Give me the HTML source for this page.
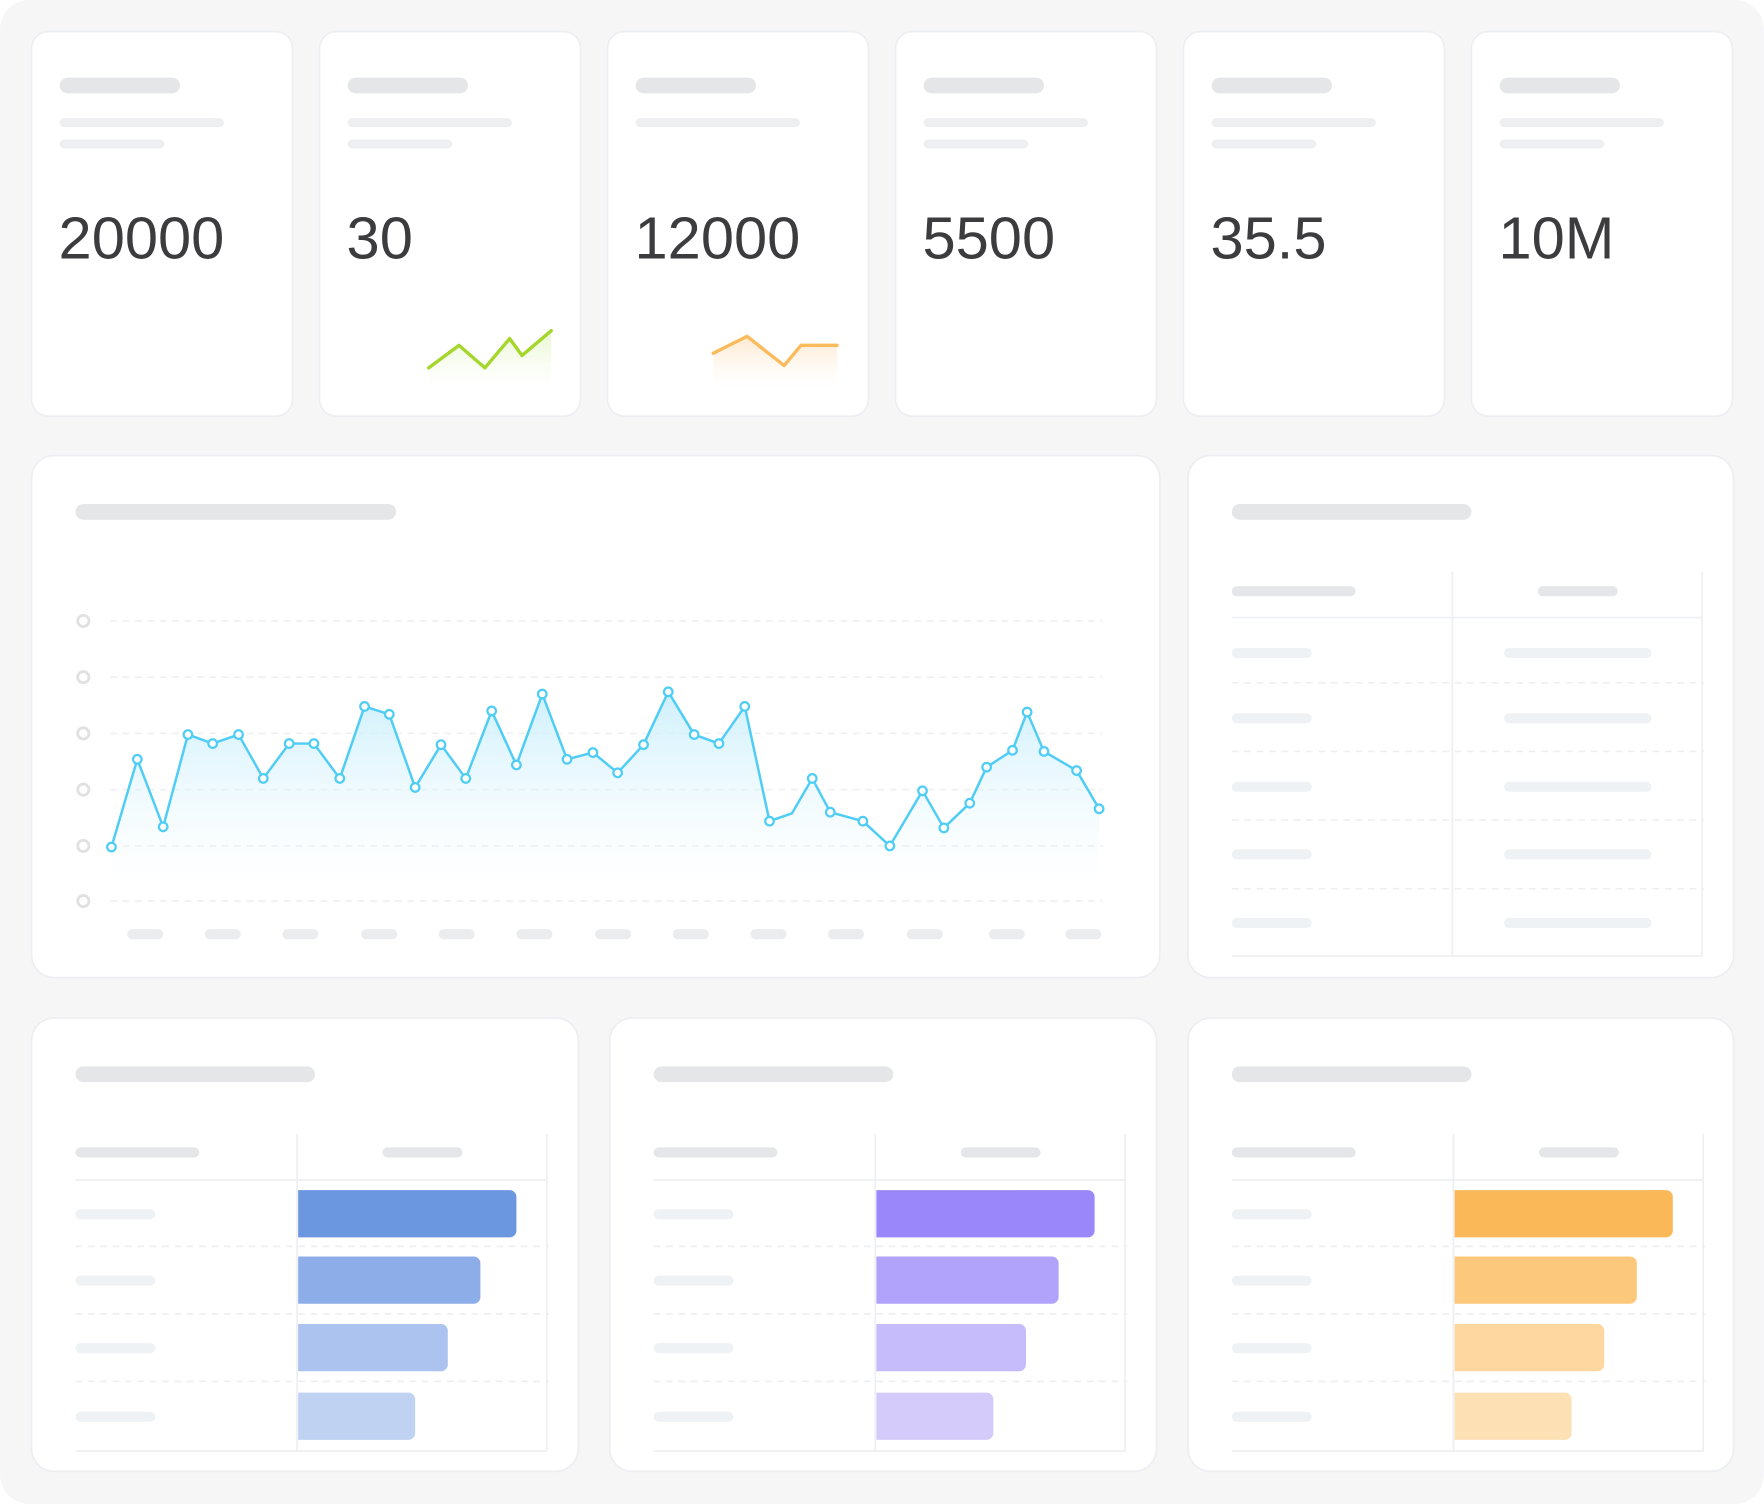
<!DOCTYPE html>
<html><head><meta charset="utf-8"><style>
html,body{margin:0;padding:0;background:#fff;width:1764px;height:1504px;overflow:hidden}
svg{display:block}
</style></head><body>
<svg width="1764" height="1504" viewBox="0 0 1568 1337" xmlns="http://www.w3.org/2000/svg">
<defs>
<linearGradient id="gb" x1="0" y1="0" x2="0" y2="1"><stop offset="0" stop-color="#c9eefb" stop-opacity="0.9"/><stop offset="1" stop-color="#e8f8fe" stop-opacity="0"/></linearGradient>
<linearGradient id="gg" x1="0" y1="0" x2="0" y2="1"><stop offset="0" stop-color="#d9f2b0" stop-opacity="0.6"/><stop offset="1" stop-color="#f0fae0" stop-opacity="0"/></linearGradient>
<linearGradient id="go" x1="0" y1="0" x2="0" y2="1"><stop offset="0" stop-color="#fde0bd" stop-opacity="0.7"/><stop offset="1" stop-color="#fff3e5" stop-opacity="0"/></linearGradient>
</defs>
<rect x="0" y="0" width="1568" height="1337" rx="26" fill="#f6f6f7"/>
<g fill="#fff" stroke="#eceef1" stroke-width="1.5">
<rect x="28" y="28" width="232" height="342" rx="15"/>
<rect x="284" y="28" width="232" height="342" rx="15"/>
<rect x="540" y="28" width="232" height="342" rx="15"/>
<rect x="796" y="28" width="232" height="342" rx="15"/>
<rect x="1052" y="28" width="232" height="342" rx="15"/>
<rect x="1308" y="28" width="232" height="342" rx="15"/>
<rect x="28" y="405" width="1003" height="464" rx="20"/>
<rect x="1056" y="405" width="485" height="464" rx="20"/>
<rect x="28" y="905" width="486" height="403" rx="20"/>
<rect x="542" y="905" width="486" height="403" rx="20"/>
<rect x="1056" y="905" width="485" height="403" rx="20"/>
</g>
<g id="kpi">
<g fill="#e5e6e8"><rect x="53" y="69" width="107" height="14" rx="7"/><rect x="309" y="69" width="107" height="14" rx="7"/><rect x="565" y="69" width="107" height="14" rx="7"/><rect x="821" y="69" width="107" height="14" rx="7"/><rect x="1077" y="69" width="107" height="14" rx="7"/><rect x="1333" y="69" width="107" height="14" rx="7"/></g>
<g fill="#eeeff1"><rect x="53" y="105" width="146" height="8" rx="4"/><rect x="309" y="105" width="146" height="8" rx="4"/><rect x="565" y="105" width="146" height="8" rx="4"/><rect x="821" y="105" width="146" height="8" rx="4"/><rect x="1077" y="105" width="146" height="8" rx="4"/><rect x="1333" y="105" width="146" height="8" rx="4"/>
<rect x="53" y="124" width="93" height="8" rx="4"/><rect x="309" y="124" width="93" height="8" rx="4"/><rect x="821" y="124" width="93" height="8" rx="4"/><rect x="1077" y="124" width="93" height="8" rx="4"/><rect x="1333" y="124" width="93" height="8" rx="4"/></g>
<g font-family="Liberation Sans, sans-serif" font-size="53" fill="#3c3c3e">
<text x="52" y="230">20000</text><text x="308" y="230">30</text><text x="564" y="230">12000</text><text x="820" y="230">5500</text><text x="1076" y="230">35.5</text><text x="1332" y="230">10M</text></g>
<polygon points="381,327 408,307 431,327 453,301 464,316 490,294 490,345 381,345" fill="url(#gg)"/>
<polyline points="381,327 408,307 431,327 453,301 464,316 490,294" fill="none" stroke="#a5d62b" stroke-width="3" stroke-linejoin="round" stroke-linecap="round"/>
<polygon points="634,314 664,299 697,325 712,307 744,307 744,345 634,345" fill="url(#go)"/>
<polyline points="634,314 664,299 697,325 712,307 744,307" fill="none" stroke="#fbbb5c" stroke-width="3" stroke-linejoin="round" stroke-linecap="round"/>
</g>
<!-- main chart -->
<rect x="67" y="448" width="285" height="14" rx="7" fill="#e5e6e8"/>
<g stroke="#eeeff1" stroke-width="1.5" stroke-dasharray="6 5">
<line x1="98" y1="552" x2="980" y2="552"/><line x1="98" y1="602" x2="980" y2="602"/><line x1="98" y1="652" x2="980" y2="652"/><line x1="98" y1="702" x2="980" y2="702"/><line x1="98" y1="752" x2="980" y2="752"/><line x1="98" y1="801" x2="980" y2="801"/></g>
<g fill="#fff" stroke="#e0e1e3" stroke-width="2.5"><circle cx="74" cy="552" r="5"/><circle cx="74" cy="602" r="5"/><circle cx="74" cy="652" r="5"/><circle cx="74" cy="702" r="5"/><circle cx="74" cy="752" r="5"/><circle cx="74" cy="801" r="5"/></g>
<g fill="#ebecee"><rect x="113" y="826" width="32" height="9" rx="4.5"/><rect x="182" y="826" width="32" height="9" rx="4.5"/><rect x="251" y="826" width="32" height="9" rx="4.5"/><rect x="321" y="826" width="32" height="9" rx="4.5"/><rect x="390" y="826" width="32" height="9" rx="4.5"/><rect x="459" y="826" width="32" height="9" rx="4.5"/><rect x="529" y="826" width="32" height="9" rx="4.5"/><rect x="598" y="826" width="32" height="9" rx="4.5"/><rect x="667" y="826" width="32" height="9" rx="4.5"/><rect x="736" y="826" width="32" height="9" rx="4.5"/><rect x="806" y="826" width="32" height="9" rx="4.5"/><rect x="879" y="826" width="32" height="9" rx="4.5"/><rect x="947" y="826" width="32" height="9" rx="4.5"/></g>
<polygon fill="url(#gb)" points="99,753 122,675 145,735 167,653 189,661 212,653 234,692 257,661 279,661 302,692 324,628 346,635 369,700 392,662 414,692 437,632 459,680 482,617 504,675 527,669 549,687 572,662 594,615 617,653 639,661 662,628 684,730 704,723 722,692 738,722 767,730 791,752 820,703 839,736 862,714 877,682 900,667 913,633 928,668 957,685 977,719 977,785 99,785"/>
<polyline fill="none" stroke="#4fcdf5" stroke-width="2.2" stroke-linejoin="round" points="99,753 122,675 145,735 167,653 189,661 212,653 234,692 257,661 279,661 302,692 324,628 346,635 369,700 392,662 414,692 437,632 459,680 482,617 504,675 527,669 549,687 572,662 594,615 617,653 639,661 662,628 684,730 704,723 722,692 738,722 767,730 791,752 820,703 839,736 862,714 877,682 900,667 913,633 928,668 957,685 977,719"/>
<g fill="#fff" stroke="#4fcdf5" stroke-width="2"><circle cx="99" cy="753" r="3.8"/><circle cx="122" cy="675" r="3.8"/><circle cx="145" cy="735" r="3.8"/><circle cx="167" cy="653" r="3.8"/><circle cx="189" cy="661" r="3.8"/><circle cx="212" cy="653" r="3.8"/><circle cx="234" cy="692" r="3.8"/><circle cx="257" cy="661" r="3.8"/><circle cx="279" cy="661" r="3.8"/><circle cx="302" cy="692" r="3.8"/><circle cx="324" cy="628" r="3.8"/><circle cx="346" cy="635" r="3.8"/><circle cx="369" cy="700" r="3.8"/><circle cx="392" cy="662" r="3.8"/><circle cx="414" cy="692" r="3.8"/><circle cx="437" cy="632" r="3.8"/><circle cx="459" cy="680" r="3.8"/><circle cx="482" cy="617" r="3.8"/><circle cx="504" cy="675" r="3.8"/><circle cx="527" cy="669" r="3.8"/><circle cx="549" cy="687" r="3.8"/><circle cx="572" cy="662" r="3.8"/><circle cx="594" cy="615" r="3.8"/><circle cx="617" cy="653" r="3.8"/><circle cx="639" cy="661" r="3.8"/><circle cx="662" cy="628" r="3.8"/><circle cx="684" cy="730" r="3.8"/><circle cx="722" cy="692" r="3.8"/><circle cx="738" cy="722" r="3.8"/><circle cx="767" cy="730" r="3.8"/><circle cx="791" cy="752" r="3.8"/><circle cx="820" cy="703" r="3.8"/><circle cx="839" cy="736" r="3.8"/><circle cx="862" cy="714" r="3.8"/><circle cx="877" cy="682" r="3.8"/><circle cx="900" cy="667" r="3.8"/><circle cx="913" cy="633" r="3.8"/><circle cx="928" cy="668" r="3.8"/><circle cx="957" cy="685" r="3.8"/><circle cx="977" cy="719" r="3.8"/></g>
<!-- right table -->
<rect x="1095" y="448" width="213" height="14" rx="7" fill="#e5e6e8"/>
<g stroke="#eeeff1" stroke-width="1.5" fill="none">
<line x1="1291" y1="508" x2="1291" y2="850"/><line x1="1513" y1="508" x2="1513" y2="850"/>
<line x1="1095" y1="549" x2="1513" y2="549"/><line x1="1095" y1="850" x2="1513" y2="850"/>
<g stroke-dasharray="6 5"><line x1="1095" y1="607" x2="1515" y2="607"/><line x1="1095" y1="668" x2="1515" y2="668"/><line x1="1095" y1="729" x2="1515" y2="729"/><line x1="1095" y1="790" x2="1515" y2="790"/></g></g>
<g fill="#e5e6e8"><rect x="1095" y="521" width="110" height="9" rx="4.5"/><rect x="1367" y="521" width="71" height="9" rx="4.5"/></g>
<g fill="#eff2f4"><rect x="1095" y="576" width="71" height="9" rx="4.5"/><rect x="1337" y="576" width="131" height="9" rx="4.5"/><rect x="1095" y="634" width="71" height="9" rx="4.5"/><rect x="1337" y="634" width="131" height="9" rx="4.5"/><rect x="1095" y="695" width="71" height="9" rx="4.5"/><rect x="1337" y="695" width="131" height="9" rx="4.5"/><rect x="1095" y="755" width="71" height="9" rx="4.5"/><rect x="1337" y="755" width="131" height="9" rx="4.5"/><rect x="1095" y="816" width="71" height="9" rx="4.5"/><rect x="1337" y="816" width="131" height="9" rx="4.5"/></g>
<!-- bottom bar tables -->
<g id="b1" transform="translate(0,0)">
<rect x="67" y="948" width="213" height="14" rx="7" fill="#e5e6e8"/>
<g stroke="#eeeff1" stroke-width="1.5" fill="none"><line x1="264" y1="1008" x2="264" y2="1290"/><line x1="486" y1="1008" x2="486" y2="1290"/><line x1="67" y1="1049" x2="486" y2="1049"/><line x1="67" y1="1290" x2="486" y2="1290"/><g stroke-dasharray="6 5"><line x1="67" y1="1108" x2="488" y2="1108"/><line x1="67" y1="1168" x2="488" y2="1168"/><line x1="67" y1="1228" x2="488" y2="1228"/></g></g>
<g fill="#e5e6e8"><rect x="67" y="1020" width="110" height="9" rx="4.5"/><rect x="340" y="1020" width="71" height="9" rx="4.5"/></g>
<g fill="#eff2f4"><rect x="67" y="1075" width="71" height="9" rx="4.5"/><rect x="67" y="1134" width="71" height="9" rx="4.5"/><rect x="67" y="1194" width="71" height="9" rx="4.5"/><rect x="67" y="1255" width="71" height="9" rx="4.5"/></g>
</g>
<use href="#b1" transform="translate(514,0)"/>
<use href="#b1" transform="translate(1028,0)"/>
<g>
<path d="M265 1058h188a6 6 0 0 1 6 6v30a6 6 0 0 1-6 6h-188z" fill="#6b96e0"/>
<path d="M265 1117h156a6 6 0 0 1 6 6v30a6 6 0 0 1-6 6h-156z" fill="#8dade8"/>
<path d="M265 1177h127a6 6 0 0 1 6 6v30a6 6 0 0 1-6 6h-127z" fill="#abc3ee"/>
<path d="M265 1238h98a6 6 0 0 1 6 6v30a6 6 0 0 1-6 6h-98z" fill="#bfd2f1"/>
<path d="M779 1058h188a6 6 0 0 1 6 6v30a6 6 0 0 1-6 6h-188z" fill="#9a88fa"/>
<path d="M779 1117h156a6 6 0 0 1 6 6v30a6 6 0 0 1-6 6h-156z" fill="#b1a2fb"/>
<path d="M779 1177h127a6 6 0 0 1 6 6v30a6 6 0 0 1-6 6h-127z" fill="#c6bcfc"/>
<path d="M779 1238h98a6 6 0 0 1 6 6v30a6 6 0 0 1-6 6h-98z" fill="#d5cbfb"/>
<path d="M1293 1058h188a6 6 0 0 1 6 6v30a6 6 0 0 1-6 6h-188z" fill="#fbb858"/>
<path d="M1293 1117h156a6 6 0 0 1 6 6v30a6 6 0 0 1-6 6h-156z" fill="#fcc87b"/>
<path d="M1293 1177h127a6 6 0 0 1 6 6v30a6 6 0 0 1-6 6h-127z" fill="#fdd79f"/>
<path d="M1293 1238h98a6 6 0 0 1 6 6v30a6 6 0 0 1-6 6h-98z" fill="#fde0b4"/>
</g>
</svg>
</body></html>
